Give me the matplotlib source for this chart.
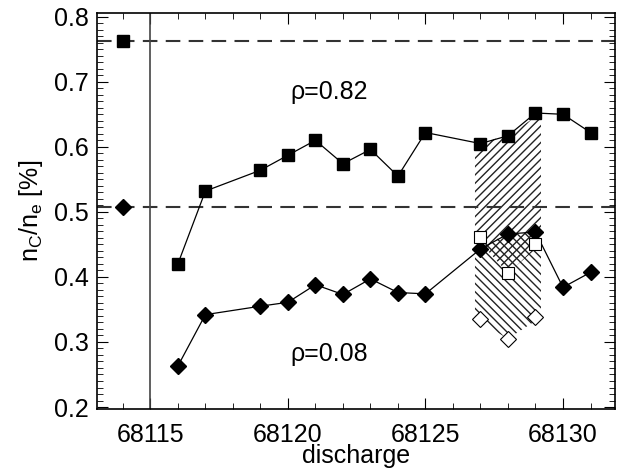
import numpy as np
import matplotlib.pyplot as plt
from matplotlib.ticker import MultipleLocator

plt.rcParams['font.family'] = ['Liberation Sans', 'DejaVu Sans']
plt.rcParams['mathtext.fontset'] = 'custom'
plt.rcParams['mathtext.rm'] = 'Liberation Sans'
plt.rcParams['hatch.linewidth'] = 1.0

# reference shot
ref_shot = 68114
ref_outer = 0.762
ref_core = 0.508

# rho = 0.82 (squares) and rho = 0.08 (diamonds)
shots = [68116, 68117, 68119, 68120, 68121, 68122, 68123, 68124, 68125,
         68127, 68128, 68129, 68130, 68131]
outer = [0.420, 0.532, 0.564, 0.587, 0.610, 0.574, 0.596, 0.555, 0.622,
         0.605, 0.617, 0.652, 0.650, 0.622]
core = [0.263, 0.342, 0.355, 0.361, 0.388, 0.373, 0.397, 0.376, 0.374,
        0.443, 0.466, 0.469, 0.384, 0.407]

# open symbols for the hatched shots
band_shots = [68127, 68128, 68129]
open_sq = [0.462, 0.406, 0.450]
open_dm = [0.335, 0.305, 0.338]

fig = plt.figure(figsize=(6.24, 4.75), dpi=100)
ax = fig.add_axes([0.155, 0.139, 0.831, 0.834])

# hatched bands
bx = np.array(band_shots, dtype=float)
bx[0] -= 0.2
bx[-1] += 0.2
ax.fill_between(bx, outer[9:12], open_sq, facecolor='none', edgecolor='#222222',
                hatch='////', linewidth=0)
ax.fill_between(bx, core[9:12], open_dm, facecolor='none', edgecolor='#222222',
                hatch='\\\\\\\\', linewidth=0)

ax.axhline(ref_outer, color='#333333', lw=1.5, ls=(0, (7, 4)))
ax.axhline(ref_core, color='#333333', lw=1.5, ls=(0, (7, 4)))
ax.axvline(68115, color='#444444', lw=1.2)

ax.plot(shots, outer, 'k-', lw=0.9, marker='s', ms=8)
ax.plot(shots, core, 'k-', lw=0.9, marker='D', ms=8)
ax.plot([ref_shot], [ref_outer], 'ks', ms=8)
ax.plot([ref_shot], [ref_core], 'kD', ms=8)
ax.plot(band_shots, open_sq, 's', ms=8, mfc='white', mec='black', mew=0.8, ls='none')
ax.plot(band_shots, open_dm, 'D', ms=8, mfc='white', mec='black', mew=0.8, ls='none')

ax.text(68121.5, 0.685, 'ρ=0.82', fontsize=18, ha='center', va='center')
ax.text(68121.5, 0.282, 'ρ=0.08', fontsize=18, ha='center', va='center')

ax.set_xlim(68113.05, 68131.9)
ax.set_ylim(0.197, 0.806)
ax.xaxis.set_major_locator(MultipleLocator(5))
ax.xaxis.set_minor_locator(MultipleLocator(1))
ax.yaxis.set_major_locator(MultipleLocator(0.1))
ax.yaxis.set_minor_locator(MultipleLocator(0.01))
ax.tick_params(which='both', direction='in', top=True, right=True, labelsize=18)
ax.tick_params(which='major', length=8)
ax.tick_params(which='minor', length=4)
ax.xaxis.set_major_formatter(plt.FuncFormatter(lambda v, p: '%d' % v))
ax.yaxis.set_major_formatter(plt.FuncFormatter(lambda v, p: '%.1f' % v))
ax.tick_params(axis='x', pad=10)
ax.tick_params(axis='y', pad=6)
for s in ax.spines.values():
    s.set_linewidth(1.2)

ax.set_xlabel('discharge', fontsize=18, labelpad=-2)
ax.set_ylabel(r'n$_\mathrm{C}$/n$_\mathrm{e}$ [%]', fontsize=18, labelpad=6)

fig.savefig('out.png', dpi=100)
